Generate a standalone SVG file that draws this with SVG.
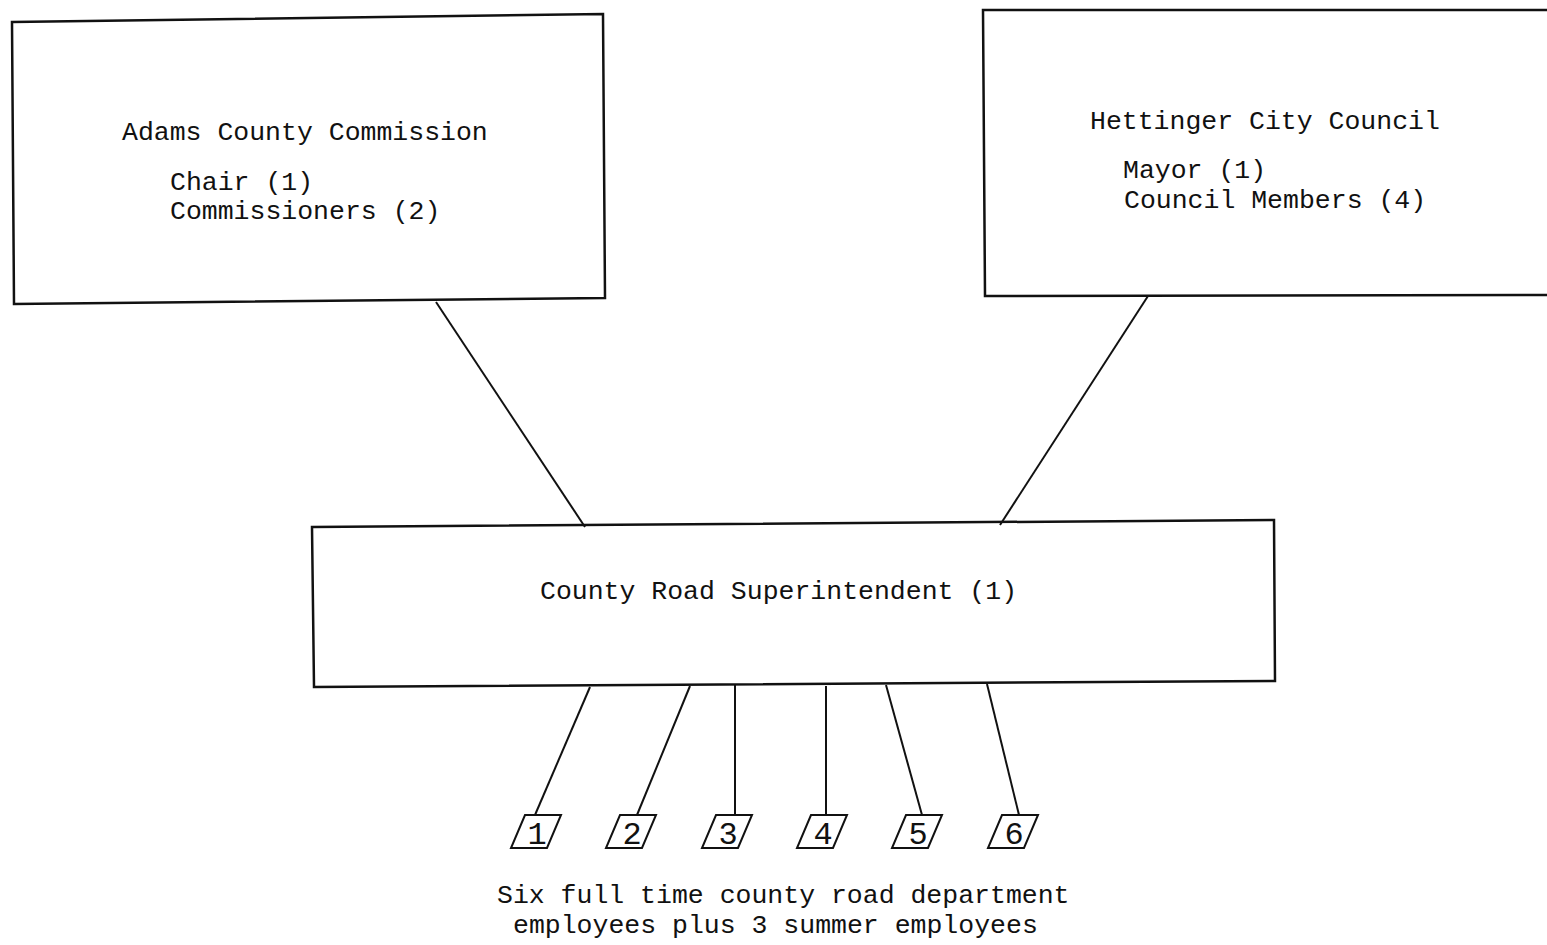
<svg xmlns="http://www.w3.org/2000/svg" width="1547" height="945" viewBox="0 0 1547 945">
<style>
.box{fill:none;stroke:#111;stroke-width:2.5}
.ln{stroke:#111;stroke-width:2;fill:none}
.t{font-family:"Liberation Mono","DejaVu Sans Mono",monospace;font-size:26.5px;fill:#111}
.d{font-family:"Liberation Mono","DejaVu Sans Mono",monospace;font-size:32px;fill:#111;text-anchor:middle}
.tag{fill:none;stroke:#111;stroke-width:2}
</style>
<rect width="1547" height="945" fill="#fff"/>
<g id="connectors">
<line class="ln" x1="436" y1="302" x2="585" y2="527"/>
<line class="ln" x1="1148" y1="296" x2="1000" y2="525"/>
<line class="ln" x1="590" y1="687" x2="535" y2="815"/>
<line class="ln" x1="690" y1="686" x2="637" y2="815"/>
<line class="ln" x1="735" y1="685" x2="735" y2="815"/>
<line class="ln" x1="826" y1="686" x2="826" y2="815"/>
<line class="ln" x1="886" y1="685" x2="922" y2="815"/>
<line class="ln" x1="987" y1="684" x2="1019" y2="815"/>
</g>
<g id="adams">
<polygon class="box" points="12,22 603,14 605,298 14,304"/>
<text class="t" x="122" y="140">Adams County Commission</text>
<text class="t" x="170" y="190">Chair (1)</text>
<text class="t" x="170" y="219">Commissioners (2)</text>
</g>
<g id="hettinger">
<polyline class="box" points="1549,10 983,10 985,296 1549,295"/>
<text class="t" x="1090" y="129">Hettinger City Council</text>
<text class="t" x="1123" y="178">Mayor (1)</text>
<text class="t" x="1124" y="208">Council Members (4)</text>
</g>
<g id="superintendent">
<polygon class="box" points="312,527 1274,520 1275,681 314,687"/>
<text class="t" x="540" y="599">County Road Superintendent (1)</text>
</g>
<g id="emp1"><polygon class="tag" points="525,815 561,815 547,848 511,848"/><text class="d" x="537" y="844">1</text></g>
<g id="emp2"><polygon class="tag" points="620,815 656,815 642,848 606,848"/><text class="d" x="632" y="844">2</text></g>
<g id="emp3"><polygon class="tag" points="716,815 752,815 738,848 702,848"/><text class="d" x="728" y="844">3</text></g>
<g id="emp4"><polygon class="tag" points="811,815 847,815 833,848 797,848"/><text class="d" x="823" y="844">4</text></g>
<g id="emp5"><polygon class="tag" points="906,815 942,815 928,848 892,848"/><text class="d" x="918" y="844">5</text></g>
<g id="emp6"><polygon class="tag" points="1002,815 1038,815 1024,848 988,848"/><text class="d" x="1014" y="844">6</text></g>
<g id="caption">
<text class="t" x="497" y="903">Six full time county road department</text>
<text class="t" x="513" y="933">employees plus 3 summer employees</text>
</g>
</svg>
